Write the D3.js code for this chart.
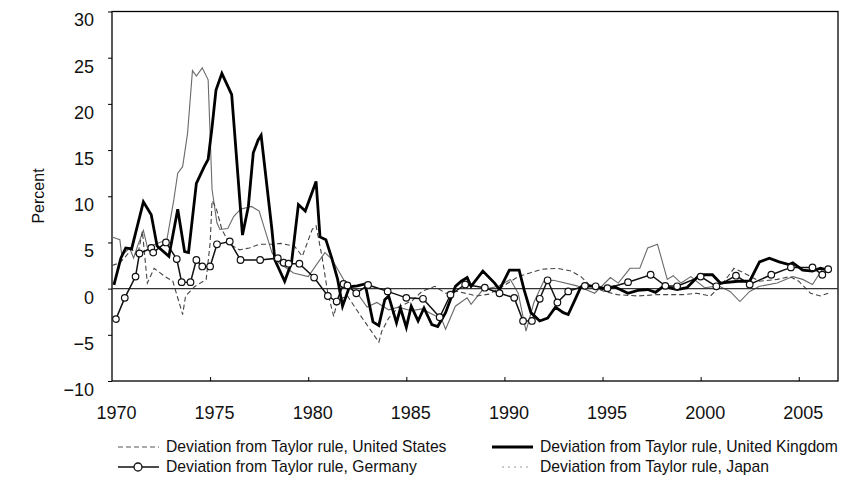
<!DOCTYPE html>
<html>
<head>
<meta charset="utf-8">
<script src="https://cdn.jsdelivr.net/npm/d3@7"></script>
<style>
body{margin:0;background:#fff;}
text{font-family:"Liberation Sans",Arial,sans-serif;fill:#111;}
</style>
</head>
<body>
<div id="chart"></div>
<script>
/* year ticks + percent ticks */
const yearTicks = [1970,1975,1980,1985,1990,1995,2000,2005];
const pctTicks = [-10,-5,0,5,10,15,20,25,30];

/* [year, deviation %] */
const usDev = [[1970.0,2.5],[1970.4,2.8],[1970.7,3.5],[1971.0,4.3],[1971.3,3.5],[1971.55,6.2],[1971.8,0.6],[1972.15,2.2],
 [1972.7,1.3],[1973.1,0.8],[1973.6,-2.8],[1973.75,-0.8],[1974.2,0.2],[1974.8,1.0],[1975.0,4.9],[1975.1,9.5],[1975.3,8.8],
 [1975.6,6.4],[1976.0,4.8],[1976.5,4.2],[1977.0,4.4],[1977.5,4.8],[1978.2,4.8],[1978.6,4.9],[1979.3,4.6],[1979.7,3.5],
 [1980.2,6.4],[1980.4,6.8],[1980.7,3.5],[1981.0,-0.5],[1981.3,-3.0],[1981.5,-1.2],[1982.0,-0.8],[1982.5,-2.4],[1983.05,-4.1],
 [1983.6,-5.8],[1983.75,-4.6],[1984.1,-3.2],[1984.6,-2.0],[1985.3,-1.3],[1985.8,-0.3],[1986.45,0.25],[1987.0,-0.5],
 [1987.6,-0.3],[1988.6,-0.8],[1989.2,-0.6],[1989.8,0.1],[1990.7,1.3],[1991.3,1.7],[1991.9,2.1],[1992.7,2.2],[1993.4,1.9],
 [1993.9,1.3],[1994.4,0.25],[1995.1,-0.3],[1995.75,-0.65],[1996.8,-0.8],[1997.8,-0.65],[1999.1,-0.65],[1999.8,-0.5],
 [2000.5,-0.8],[2001.1,0.5],[2001.7,2.2],[2002.2,1.7],[2003.0,0.8],[2003.9,1.0],[2004.55,1.3],[2005.0,0.8],[2005.6,-0.5],
 [2006.1,-0.8],[2006.5,-0.5]];

const ukDev = [[1970.1,0.4],[1970.45,3.3],[1970.7,4.4],[1971.0,4.3],[1971.6,9.4],[1972.0,8.0],[1972.3,4.6],[1972.9,3.5],
 [1973.35,8.6],[1973.7,4.0],[1973.9,3.9],[1974.3,11.4],[1974.7,13.2],[1974.9,14.0],[1975.1,17.5],[1975.3,21.5],[1975.6,23.3],
 [1976.1,21.0],[1976.65,5.8],[1976.95,8.9],[1977.2,14.7],[1977.45,16.1],[1977.6,16.6],[1978.15,6.4],[1978.3,3.1],[1978.8,0.8],
 [1979.15,2.8],[1979.5,9.1],[1979.85,8.4],[1980.4,11.6],[1980.6,5.6],[1980.9,5.3],[1981.2,3.3],[1981.5,1.0],[1981.75,-1.9],
 [1982.1,0.2],[1982.5,0.3],[1982.9,0.5],[1983.3,-3.6],[1983.6,-4.0],[1983.9,-1.2],[1984.1,-0.8],[1984.5,-3.7],[1984.7,-2.1],
 [1985.0,-4.2],[1985.25,-1.9],[1985.6,-3.5],[1985.9,-2.1],[1986.3,-3.9],[1986.6,-4.1],[1987.0,-2.6],[1987.5,0.25],[1987.8,0.8],
 [1988.1,1.2],[1988.3,0.25],[1988.9,1.9],[1989.5,0.6],[1989.75,-0.1],[1990.25,2.0],[1990.75,2.0],[1991.0,-0.1],[1991.35,-2.6],
 [1991.8,-3.5],[1992.2,-3.2],[1992.6,-2.0],[1993.0,-2.6],[1993.25,-2.8],[1993.6,-1.2],[1993.9,0.2],[1994.4,0.3],[1995.0,0.0],
 [1995.6,0.2],[1996.3,-0.5],[1996.8,-0.2],[1997.3,-0.1],[1997.7,-0.4],[1998.1,0.25],[1998.8,-0.1],[1999.3,0.1],[1999.95,1.5],
 [2000.6,1.5],[2001.0,0.6],[2001.9,0.8],[2002.5,0.8],[2003.0,2.9],[2003.5,3.3],[2004.0,2.9],[2004.5,2.6],[2004.7,2.8],
 [2005.2,2.0],[2005.7,1.9],[2006.1,2.2],[2006.5,2.0]];

const deDev = [[1970.2,-3.3],[1970.65,-1.0],[1971.2,1.3],[1971.4,3.8],[1972.0,4.4],[1972.1,3.9],[1972.75,5.0],[1973.3,3.2],
 [1973.55,0.7],[1974.0,0.7],[1974.3,3.1],[1974.6,2.4],[1975.0,2.4],[1975.35,4.8],[1976.0,5.1],[1976.55,3.1],[1977.55,3.1],
 [1978.45,3.3],[1978.75,2.8],[1979.0,2.7],[1979.55,2.7],[1980.3,1.2],[1981.0,-0.8],[1981.45,-1.4],[1981.8,0.5],[1982.0,0.35],
 [1982.45,-0.5],[1983.05,0.4],[1984.05,-0.3],[1985.0,-1.0],[1985.85,-1.1],[1986.7,-3.1],[1987.25,-0.65],[1988.0,0.45],
 [1989.0,0.1],[1989.75,-0.5],[1990.5,-1.0],[1990.95,-3.5],[1991.4,-3.5],[1991.8,-1.1],[1992.2,0.9],[1992.7,-1.5],
 [1993.25,-0.3],[1994.1,0.3],[1994.65,0.25],[1995.25,0.05],[1996.3,0.7],[1997.45,1.5],[1998.2,0.3],[1998.8,0.25],
 [2000.0,1.3],[2000.8,0.25],[2001.8,1.4],[2002.5,0.45],[2003.6,1.5],[2004.6,2.3],[2005.7,2.3],[2006.2,1.5],[2006.5,2.1]];

const jpDev = [[1970.0,5.6],[1970.4,5.3],[1970.5,3.6],[1970.9,4.4],[1971.1,3.3],[1971.3,4.6],[1971.6,6.3],[1971.8,4.5],
 [1972.2,4.8],[1972.8,5.3],[1973.15,9.6],[1973.35,12.5],[1973.6,13.2],[1973.85,16.8],[1974.1,23.6],[1974.3,23.0],[1974.6,23.9],
 [1974.9,22.6],[1975.1,10.7],[1975.35,7.1],[1975.5,6.4],[1975.9,6.5],[1976.2,7.8],[1976.55,8.6],[1977.1,8.9],[1977.5,8.4],
 [1978.15,3.9],[1978.5,2.8],[1979.25,1.7],[1980.0,1.3],[1980.85,3.9],[1981.2,3.2],[1982.0,0.25],[1982.5,-0.5],[1983.0,-2.0],
 [1983.5,-1.5],[1984.1,-2.3],[1984.6,-2.0],[1985.25,-2.4],[1985.8,-2.2],[1986.8,-3.3],[1987.0,-4.4],[1987.5,-1.9],[1988.1,-1.0],
 [1988.3,-1.7],[1988.9,-0.1],[1989.7,0.25],[1990.3,1.0],[1990.7,-0.5],[1991.1,-4.6],[1991.5,-1.5],[1992.0,0.8],[1992.5,0.9],
 [1993.7,0.3],[1994.6,-0.5],[1995.4,1.2],[1995.8,0.6],[1996.4,2.2],[1996.9,2.2],[1997.3,4.4],[1997.8,4.8],[1998.3,1.0],
 [1998.6,1.4],[1999.0,0.6],[1999.5,1.3],[2000.2,0.1],[2000.9,0.3],[2001.5,-0.3],[2002.0,-1.4],[2002.5,-0.3],[2003.0,0.25],
 [2003.9,0.6],[2004.7,1.3],[2005.2,1.0],[2005.7,0.45],[2006.2,2.1],[2006.5,2.2]];

const legendNames = ["Deviation from Taylor rule, United States","Deviation from Taylor rule, United Kingdom",
 "Deviation from Taylor rule, Germany","Deviation from Taylor rule, Japan"];

var margin = {top:11.5,right:6,bottom:99,left:112},
w = 844 - margin.left - margin.right,
h = 480 - margin.top - margin.bottom;

var svg = d3.select("#chart")
.append("svg")
.attr("width",844)
.attr("height",480);

var g = svg.append("g")
.attr("transform",`translate(${margin.left},${margin.top})`);

var xScale = d3.scaleLinear().domain([1970,2007]).range([0,w]);
var yScale = d3.scaleLinear().domain([-10,30]).range([h,0]);

// left axis, ticks outward, labels sit a bit low like the original
var yAx = g.append("g").call(d3.axisLeft(yScale).tickValues(pctTicks).tickSize(4).tickPadding(14)
 .tickFormat(d=>d<0?"\u2212"+Math.abs(d):d));
yAx.select(".domain").remove();
yAx.selectAll("text").attr("font-size",18).attr("dy","0.8em");

var xAx = g.append("g").attr("transform","translate(0,"+h+")")
 .call(d3.axisBottom(xScale).tickValues(yearTicks).tickSize(-4).tickPadding(25).tickFormat(d3.format("d")));
xAx.select(".domain").remove();
xAx.selectAll("text").attr("font-size",18).attr("dx","4");
xAx.select(".tick line").remove();

// plot frame
g.append("rect").attr("width",w).attr("height",h)
 .attr("fill","none").attr("stroke","#000").attr("stroke-width",1.3);

svg.append("text").text("Percent")
 .attr("transform","translate(44,196)rotate(-90)")
 .attr("text-anchor","middle").attr("font-size",16);

var line = d3.line().x(d=>xScale(d[0])).y(d=>yScale(d[1]));

g.append("path").datum(jpDev).attr("d",line)
 .attr("fill","none").attr("stroke","#6a6a6a").attr("stroke-width",1.1);
g.append("path").datum(usDev).attr("d",line)
 .attr("fill","none").attr("stroke","#444").attr("stroke-width",1.1).attr("stroke-dasharray","5,3");

// zero line
g.append("line").attr("x1",0).attr("x2",w).attr("y1",yScale(0)).attr("y2",yScale(0))
 .attr("stroke","#333").attr("stroke-width",1.2);

g.append("path").datum(deDev).attr("d",line)
 .attr("fill","none").attr("stroke","#111").attr("stroke-width",1.5);
g.append("path").datum(ukDev).attr("d",line)
 .attr("fill","none").attr("stroke","#000").attr("stroke-width",2.8).attr("stroke-linejoin","miter");
g.selectAll("circle.de").data(deDev).enter()
 .append("circle").attr("class","de")
 .attr("cx",d=>xScale(d[0])).attr("cy",d=>yScale(d[1])).attr("r",3.3)
 .attr("fill","#fff").attr("stroke","#111").attr("stroke-width",1.2);

/* legend, two columns */
var leg = svg.append("g").attr("font-size",15.7);
const legPos = [[118,447],[492,447],[118,467],[492,467]];
legPos.forEach((p,i)=>{
    var s = leg.append("line").attr("x1",p[0]).attr("x2",p[0]+41).attr("y1",p[1]).attr("y2",p[1]);
    if(i==0){s.attr("stroke","#555").attr("stroke-width",1).attr("stroke-dasharray","5,3");}
    if(i==1){s.attr("stroke","#000").attr("stroke-width",2.8);}
    if(i==2){s.attr("stroke","#111").attr("stroke-width",1.5);
        leg.append("circle").attr("cx",p[0]+20).attr("cy",p[1]).attr("r",4)
        .attr("fill","#fff").attr("stroke","#111").attr("stroke-width",1.3);}
    if(i==3){s.attr("x1",p[0]+10).attr("x2",p[0]+38).attr("stroke","#999").attr("stroke-width",1).attr("stroke-dasharray","2,4");}
    leg.append("text").text(legendNames[i]).attr("x",p[0]+48).attr("y",p[1]).attr("dy","0.35em");
});
</script>
</body>
</html>
